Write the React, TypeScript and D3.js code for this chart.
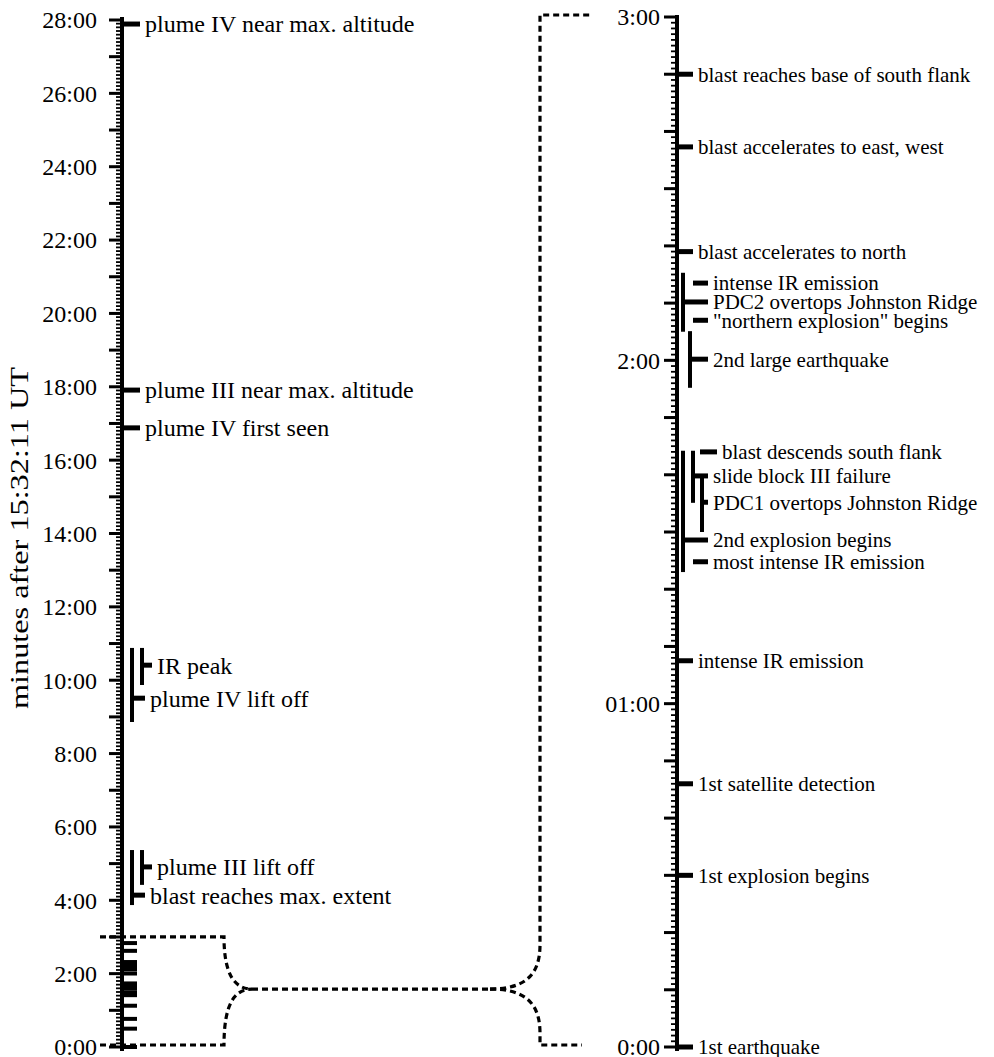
import React from "react";
import * as d3 from "d3";

// left panel: events in minutes after 15:32:11 UT
const leftLabels = [
  "plume IV near max. altitude",
  "plume III near max. altitude",
  "plume IV first seen",
  "IR peak",
  "plume IV lift off",
  "plume III lift off",
  "blast reaches max. extent",
];
const leftTimes = [27.89, 17.91, 16.88, 10.41, 9.51, 4.91, 4.14];
const leftLo = [null, null, null, 9.87, 8.86, 4.42, 3.87];
const leftHi = [null, null, null, 10.88, 10.88, 5.37, 5.37];
const leftLane = [0, 0, 0, 2, 1, 2, 1];

// right panel: first three minutes, in seconds
const rightLabels = [
  "1st earthquake",
  "1st explosion begins",
  "1st satellite detection",
  "intense IR emission",
  "most intense IR emission",
  "2nd explosion begins",
  "PDC1 overtops Johnston Ridge",
  "slide block III failure",
  "blast descends south flank",
  "2nd large earthquake",
  "\"northern explosion\" begins",
  "PDC2 overtops Johnston Ridge",
  "intense IR emission",
  "blast accelerates to north",
  "blast accelerates to east, west",
  "blast reaches base of south flank",
];
const rightTimes = [0, 30, 46, 67.5, 84.8, 88.6, 95.2, 99.8, 104, 120.2, 127, 130.2, 133.5, 139, 157.3, 170];
const rightLo = [null, null, null, null, null, 83.0, 90.0, 95.1, null, 115.2, null, 125.0, null, null, null, null];
const rightHi = [null, null, null, null, null, 104.2, 100.0, 104.2, null, 125.1, null, 135.3, null, null, null, null];
const rightLane = [0, 0, 0, 0, 3, 1, 4, 3, 5, 2, 3, 1, 3, 0, 0, 0];

const leftTickLabels = d3.range(0, 29, 2).map((m) => `${m}:00`);
const rightTickValues = [180, 120, 60, 0];
const rightTickLabels = ["3:00", "2:00", "01:00", "0:00"];

const FONT = "'Liberation Serif', 'Times New Roman', serif";

export default function App() {
  const W = 994;
  const H = 1057;
  const axL = 122;
  const axR = 677;

  const yL = d3.scaleLinear().domain([0, 28]).range([1047, 20]);
  const yR = d3.scaleLinear().domain([0, 180]).range([1047, 17]);

  // lane offsets (start of tick / bar position) and tick ends
  const lStart = [0, 10, 20];
  const lEnd = [18, 23, 30];
  const rStart = [0, 6, 13, 16, 25, 23];
  const rEnd = [16, 31, 31, 31, 31, 40];

  const minorL = d3.range(0, 281).map((i) => i / 10);
  const majorL = d3.range(0, 29);
  const minorR = d3.range(0, 181);
  const majorR = d3.range(0, 181, 10);

  const midY = yL(1.58);
  const dash = { fill: "none", stroke: "#000", strokeWidth: 3.2, strokeDasharray: "6,4" };

  return (
    <svg width={W} height={H} style={{ position: "absolute", left: 0, top: 0, background: "#fff" }}>
      {/* axis title */}
      <text
        transform={`translate(28,${538}) rotate(-90)`}
        textAnchor="middle"
        fontFamily={FONT}
        fontSize={26}
        textLength={342}
        lengthAdjust="spacingAndGlyphs"
      >
        minutes after 15:32:11 UT
      </text>

      {/* left axis */}
      <line x1={axL} x2={axL} y1={yL(28) - 3} y2={yL(0) + 4} stroke="#000" strokeWidth={4} />
      {minorL.map((m, i) => (
        <line key={"ml" + i} x1={axL - 6} x2={axL} y1={yL(m)} y2={yL(m)} stroke="#000" strokeWidth={1.8} />
      ))}
      {majorL.map((m) => (
        <line key={"Ml" + m} x1={axL - 13} x2={axL} y1={yL(m)} y2={yL(m)} stroke="#000" strokeWidth={3} />
      ))}
      {leftTickLabels.map((t, i) => (
        <text key={t} x={97} y={yL(i * 2)} dy="0.35em" textAnchor="end" fontFamily={FONT} fontSize={24}>
          {t}
        </text>
      ))}

      {/* compressed first three minutes on the left axis */}
      {rightTimes.map((s, i) => (
        <line key={"c" + i} x1={axL} x2={axL + 15} y1={yL(s / 60)} y2={yL(s / 60)} stroke="#000" strokeWidth={4} />
      ))}

      {/* left events */}
      {leftTimes.map((m, i) => {
        const x0 = axL + lStart[leftLane[i]];
        const x1 = axL + lEnd[leftLane[i]];
        return (
          <g key={"le" + i}>
            {leftLo[i] != null && (
              <line x1={x0} x2={x0} y1={yL(leftLo[i] as number)} y2={yL(leftHi[i] as number)} stroke="#000" strokeWidth={4} />
            )}
            <line x1={x0} x2={x1} y1={yL(m)} y2={yL(m)} stroke="#000" strokeWidth={5} />
            <text x={x1 + 5} y={yL(m)} dy="0.35em" fontFamily={FONT} fontSize={24}>
              {leftLabels[i]}
            </text>
          </g>
        );
      })}

      {/* right axis */}
      <line x1={axR} x2={axR} y1={yR(180) - 2} y2={yR(0) + 4} stroke="#000" strokeWidth={4} />
      {minorR.map((s) => (
        <line key={"mr" + s} x1={axR - 6} x2={axR} y1={yR(s)} y2={yR(s)} stroke="#000" strokeWidth={1.8} />
      ))}
      {majorR.map((s) => (
        <line key={"Mr" + s} x1={axR - 13} x2={axR} y1={yR(s)} y2={yR(s)} stroke="#000" strokeWidth={3} />
      ))}
      {rightTickValues.map((s, i) => (
        <text key={"rt" + s} x={axR - 17} y={yR(s)} dy="0.35em" textAnchor="end" fontFamily={FONT} fontSize={24}>
          {rightTickLabels[i]}
        </text>
      ))}

      {/* right events */}
      {rightTimes.map((s, i) => {
        const x0 = axR + rStart[rightLane[i]];
        const x1 = axR + rEnd[rightLane[i]];
        return (
          <g key={"re" + i}>
            {rightLo[i] != null && (
              <line x1={x0} x2={x0} y1={yR(rightLo[i] as number)} y2={yR(rightHi[i] as number)} stroke="#000" strokeWidth={4} />
            )}
            <line x1={x0} x2={x1} y1={yR(s)} y2={yR(s)} stroke="#000" strokeWidth={5} />
            <text x={x1 + 5} y={yR(s)} dy="0.35em" fontFamily={FONT} fontSize={21}>
              {rightLabels[i]}
            </text>
          </g>
        );
      })}

      {/* zoom connector */}
      <path d={`M100,${yL(3)} H224 C224,${midY - 14} 235,${midY} 252,${midY}`} style={dash} />
      <path d={`M100,${yL(0) - 2} H224 C224,${midY + 14} 235,${midY} 252,${midY}`} style={dash} />
      <path d={`M252,${midY} H490`} style={dash} />
      <path d={`M490,${midY} C525,${midY} 540,${midY - 14} 540,${midY - 44} V${yR(180) - 2} H592`} style={dash} />
      <path d={`M490,${midY} C525,${midY} 540,${midY + 14} 540,${midY + 44} V${yR(0) - 2} H582`} style={dash} />
    </svg>
  );
}
